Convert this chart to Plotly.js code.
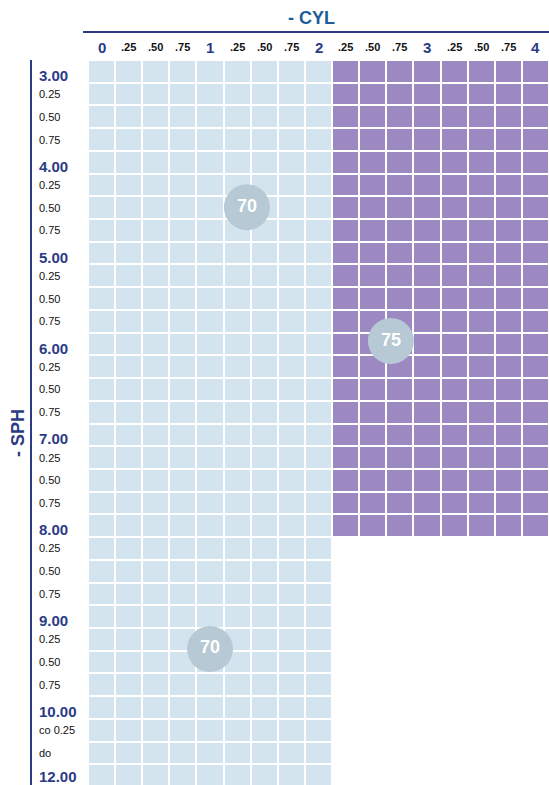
<!DOCTYPE html>
<html>
<head>
<meta charset="utf-8">
<script src="https://cdn.plot.ly/plotly-3.0.1.min.js"></script>
<style>html,body{margin:0;padding:0;background:#fff;}#chart{width:549px;height:785px;}</style>
</head>
<body>
<div id="chart"></div>
<script>
// ---- data ----
const cylLabels = ['0','.25','.50','.75','1','.25','.50','.75','2','.25','.50','.75','3','.25','.50','.75','4'];
const cylMajor  = [1,0,0,0,1,0,0,0,1,0,0,0,1,0,0,0,1];
const sphLabels = ['3.00','0.25','0.50','0.75','4.00','0.25','0.50','0.75','5.00','0.25','0.50','0.75',
                   '6.00','0.25','0.50','0.75','7.00','0.25','0.50','0.75','8.00','0.25','0.50','0.75',
                   '9.00','0.25','0.50','0.75','10.00','co 0.25','do','12.00'];
const sphMajor  = [1,0,0,0,1,0,0,0,1,0,0,0,1,0,0,0,1,0,0,0,1,0,0,0,1,0,0,0,1,0,0,1];
// per CYL column: which zone (1 = light blue, 2 = purple) and how many SPH rows it covers
const columnZone  = [1,1,1,1,1,1,1,1,1,2,2,2,2,2,2,2,2];
const columnDepth = [32,32,32,32,32,32,32,32,32,21,21,21,21,21,21,21,21];
// badges: label, cyl column position, sph row position
const badgeText = ['70','75','70'];
const badgeCol  = [5.36,10.67,4.0];
const badgeRow  = [5.98,11.87,25.42];

// ---- build ----
const nRows = sphLabels.length, nCols = cylLabels.length;
const z = [];
for (let r = 0; r < nRows; r++) {
  const row = [];
  for (let c = 0; c < nCols; c++) row.push(r < columnDepth[c] ? columnZone[c] : null);
  z.push(row);
}
const xIdx = cylLabels.map((_, i) => i);
const yIdx = sphLabels.map((_, i) => i);

const navy = '#2b3b86';
const FONT = 'Liberation Sans, Arial, sans-serif';
const traces = [
  {
    type: 'heatmap', x: xIdx, y: yIdx, z: z, zmin: 1, zmax: 2,
    colorscale: [[0, '#d4e4ee'], [0.5, '#d4e4ee'], [0.5, '#9d89c2'], [1, '#9d89c2']],
    showscale: false, xgap: 2, ygap: 2, hoverinfo: 'skip'
  },
  {
    type: 'scatter', mode: 'markers+text', x: badgeCol, y: badgeRow, text: badgeText,
    marker: { size: 46, color: '#b6c9d4', line: { width: 0 } },
    textfont: { family: FONT, size: 18, color: '#ffffff', weight: 'bold' },
    textposition: 'middle center', hoverinfo: 'skip', cliponaxis: false
  }
];

const PL = 88, PT = 60, W = 549, H = 785;
const pw = W - PL, ph = H - PT;
const px = v => (v - PL) / pw;
const py = v => 1 - (v - PT) / ph;

const annotations = [];
cylLabels.forEach((t, i) => {
  annotations.push({
    xref: 'x', yref: 'paper', x: i, y: py(47), text: t, showarrow: false,
    xanchor: 'center', yanchor: 'middle',
    font: cylMajor[i]
      ? { family: FONT, size: 15, color: navy, weight: 'bold' }
      : { family: FONT, size: 11, color: '#111111', weight: 'bold' }
  });
});
sphLabels.forEach((t, i) => {
  annotations.push({
    xref: 'paper', yref: 'y', x: px(37), y: i, text: t, showarrow: false,
    xanchor: 'left', yanchor: 'middle', yshift: sphMajor[i] ? (i === nRows - 1 ? -1 : -4) : 0,
    font: sphMajor[i]
      ? { family: FONT, size: 15, color: navy, weight: 'bold' }
      : { family: FONT, size: 11, color: '#111111' }
  });
});
annotations.push({
  xref: 'paper', yref: 'paper', x: px(311), y: py(18), text: '- CYL', showarrow: false,
  xanchor: 'center', yanchor: 'middle',
  font: { family: FONT, size: 18, color: '#1d5b9c', weight: 'bold' }
});
annotations.push({
  xref: 'paper', yref: 'paper', x: px(18), y: py(433), text: '- SPH', showarrow: false,
  xanchor: 'center', yanchor: 'middle', textangle: -90,
  font: { family: FONT, size: 18, color: navy, weight: 'bold' }
});

const layout = {
  width: W, height: H,
  margin: { l: PL, r: 0, t: PT, b: 0, pad: 0 },
  paper_bgcolor: '#ffffff', plot_bgcolor: '#ffffff',
  showlegend: false,
  xaxis: { range: [-0.5, nCols - 0.5], showgrid: false, zeroline: false, showticklabels: false, ticks: '', fixedrange: true },
  yaxis: { range: [31.41, -0.5], showgrid: false, zeroline: false, showticklabels: false, ticks: '', fixedrange: true },
  annotations: annotations,
  shapes: [
    { type: 'line', xref: 'paper', yref: 'paper', x0: px(31), x1: px(31), y0: py(60), y1: 0, line: { color: navy, width: 2 } },
    { type: 'line', xref: 'paper', yref: 'paper', x0: px(83), x1: 1, y0: py(32), y1: py(32), line: { color: navy, width: 2 } }
  ]
};

Plotly.newPlot('chart', traces, layout, { displayModeBar: false, staticPlot: true });
</script>
</body>
</html>
